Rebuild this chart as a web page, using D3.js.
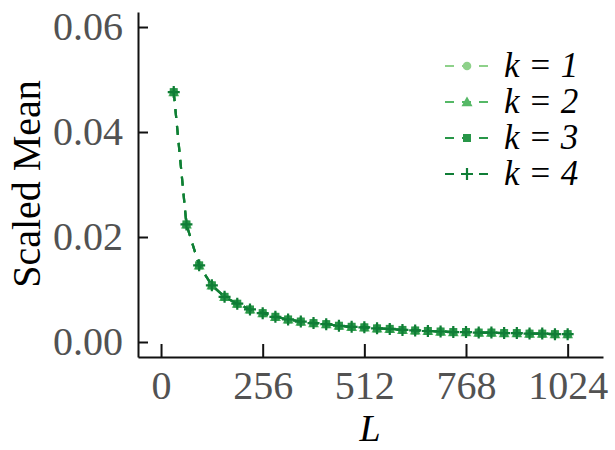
<!DOCTYPE html>
<html>
<head>
<meta charset="utf-8">
<script src="https://cdn.jsdelivr.net/npm/d3@7"></script>
<style>
  html, body { margin: 0; padding: 0; background: #fff; }
  svg { display: block; }
</style>
</head>
<body>
<svg id="chart" width="615" height="450"></svg>
<script>
// ---- data ----
const L = [32, 64, 96, 128, 160, 192, 224, 256, 288, 320, 352, 384, 416, 448, 480, 512,
           544, 576, 608, 640, 672, 704, 736, 768, 800, 832, 864, 896, 928, 960, 992, 1024];
const k1 = [0.0476, 0.0224, 0.0146, 0.0108, 0.0086, 0.0073, 0.0062, 0.0055, 0.0048, 0.0043, 0.0039, 0.0036, 0.0034, 0.0031, 0.0029, 0.0028,
            0.0026, 0.0025, 0.0023, 0.0022, 0.0021, 0.0020, 0.0019, 0.0019, 0.0018, 0.0018, 0.0017, 0.0017, 0.0016, 0.0016, 0.0015, 0.0015];
const k2 = [0.0476, 0.0224, 0.0146, 0.0108, 0.0086, 0.0073, 0.0062, 0.0055, 0.0048, 0.0043, 0.0039, 0.0036, 0.0034, 0.0031, 0.0029, 0.0028,
            0.0026, 0.0025, 0.0023, 0.0022, 0.0021, 0.0020, 0.0019, 0.0019, 0.0018, 0.0018, 0.0017, 0.0017, 0.0016, 0.0016, 0.0015, 0.0015];
const k3 = [0.0476, 0.0224, 0.0146, 0.0108, 0.0086, 0.0073, 0.0062, 0.0055, 0.0048, 0.0043, 0.0039, 0.0036, 0.0034, 0.0031, 0.0029, 0.0028,
            0.0026, 0.0025, 0.0023, 0.0022, 0.0021, 0.0020, 0.0019, 0.0019, 0.0018, 0.0018, 0.0017, 0.0017, 0.0016, 0.0016, 0.0015, 0.0015];
const k4 = [0.0476, 0.0224, 0.0146, 0.0108, 0.0086, 0.0073, 0.0062, 0.0055, 0.0048, 0.0043, 0.0039, 0.0036, 0.0034, 0.0031, 0.0029, 0.0028,
            0.0026, 0.0025, 0.0023, 0.0022, 0.0021, 0.0020, 0.0019, 0.0019, 0.0018, 0.0018, 0.0017, 0.0017, 0.0016, 0.0016, 0.0015, 0.0015];
const seriesNames = ["k = 1", "k = 2", "k = 3", "k = 4"];
const xTicks = [0, 256, 512, 768, 1024];
const yTicks = [0.00, 0.02, 0.04, 0.06];

// ---- layout ----
const svg = d3.select("#chart");
const FONT = "'Liberation Serif', 'Times New Roman', serif";
const colors = ["#8ed18a", "#55b866", "#289648", "#0f7d36"];
const shapes = ["circle", "triangle", "square", "plus"];

const x = d3.scaleLinear().domain([-58, 1113]).range([138, 603]);
const y = d3.scaleLinear().domain([-0.002857, 0.06286]).range([357, 12]);

// axes
const xAxis = d3.axisBottom(x).tickValues(xTicks).tickFormat(d3.format("d"))
  .tickSizeInner(-13).tickSizeOuter(0).tickPadding(14);
const yAxis = d3.axisLeft(y).tickValues(yTicks).tickFormat(d3.format(".2f"))
  .tickSizeInner(-10).tickSizeOuter(0).tickPadding(15);

const gx = svg.append("g").attr("transform", "translate(0,357)").call(xAxis);
const gy = svg.append("g").attr("transform", "translate(138,0)").call(yAxis);
[gx, gy].forEach(g => {
  g.select(".domain").attr("stroke", "#111").attr("stroke-width", 2);
  g.selectAll(".tick line").attr("stroke", "#111").attr("stroke-width", 2);
  g.selectAll(".tick text").attr("fill", "#525252")
    .style("font-family", FONT).style("font-size", "40px");
});

// axis labels
svg.append("text").attr("x", 370).attr("y", 441).attr("text-anchor", "middle")
  .style("font-family", FONT).style("font-size", "38px").style("font-style", "italic")
  .attr("fill", "#000").text("L");
svg.append("text").attr("transform", "translate(40,184) rotate(-90)").attr("text-anchor", "middle")
  .style("font-family", FONT).style("font-size", "40px")
  .attr("fill", "#000").text("Scaled Mean");

// marker drawing
function drawMarker(g, shape, cx, cy, color) {
  if (shape === "circle") {
    g.append("circle").attr("cx", cx).attr("cy", cy).attr("r", 4.3).attr("fill", color);
  } else if (shape === "triangle") {
    const s = 5.5;
    g.append("path").attr("d", `M${cx},${cy - s}L${cx + s},${cy + s * 0.75}L${cx - s},${cy + s * 0.75}Z`)
      .attr("fill", color);
  } else if (shape === "square") {
    g.append("rect").attr("x", cx - 4).attr("y", cy - 4).attr("width", 8).attr("height", 8).attr("fill", color);
  } else {
    const s = 6;
    g.append("path").attr("d", `M${cx - s},${cy}H${cx + s}M${cx},${cy - s}V${cy + s}`)
      .attr("stroke", color).attr("stroke-width", 2.2).attr("fill", "none");
  }
}

// series
const allSeries = [k1, k2, k3, k4];
const line = d3.line().x(d => x(d[0])).y(d => y(d[1]));
allSeries.forEach((vals, i) => {
  const pts = L.map((l, j) => [l, vals[j]]);
  const g = svg.append("g");
  g.append("path").datum(pts).attr("d", line)
    .attr("fill", "none").attr("stroke", colors[i]).attr("stroke-width", 2.2)
    .attr("stroke-dasharray", "9,8");
  pts.forEach(p => drawMarker(g, shapes[i], x(p[0]), y(p[1]), colors[i]));
});

// legend
const legendY0 = 66, legendDy = 36;
seriesNames.forEach((name, i) => {
  const g = svg.append("g");
  const ly = legendY0 + i * legendDy;
  g.append("line").attr("x1", 445).attr("x2", 489).attr("y1", ly).attr("y2", ly)
    .attr("stroke", colors[i]).attr("stroke-width", 2.2).attr("stroke-dasharray", "9,8");
  drawMarker(g, shapes[i], 467, ly, colors[i]);
  g.append("text").attr("x", 504).attr("y", ly + 11)
    .style("font-family", FONT).style("font-size", "35px").style("font-style", "italic")
    .attr("fill", "#000").text(name);
});
</script>
</body>
</html>
